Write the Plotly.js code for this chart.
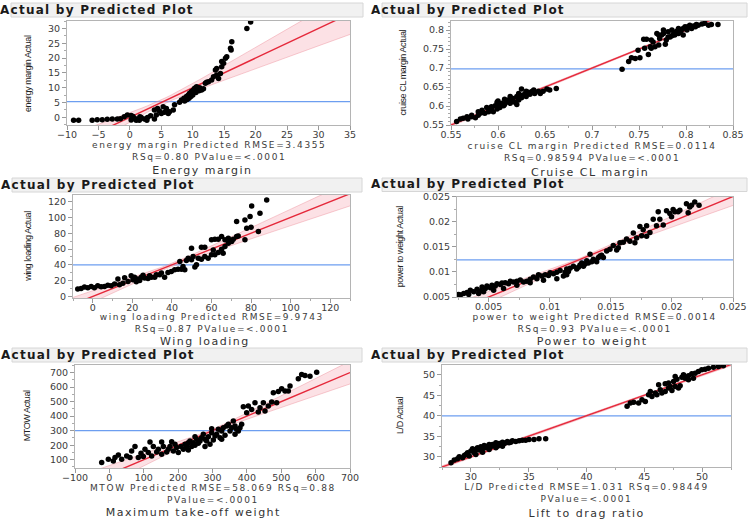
<!DOCTYPE html>
<html>
<head>
<meta charset="utf-8">
<script src="https://cdn.plot.ly/plotly-3.0.1.min.js"></script>
<style>html,body{margin:0;padding:0;background:#fff;}#chart{width:749px;height:519px;}</style>
</head>
<body>
<div id="chart"></div>
<script>
// ---------- DATA ----------
const panelTitle = "Actual by Predicted Plot";
const captions = ["Energy margin", "Cruise CL margin", "Wing loading", "Power to weight", "Maximum take-off weight", "Lift to drag ratio"];
const xTitleLine1 = [
  "energy margin Predicted RMSE=3.4355",
  "cruise CL margin Predicted RMSE=0.0114",
  "wing loading Predicted RMSE=9.9743",
  "power to weight Predicted RMSE=0.0014",
  "MTOW Predicted RMSE=58.069 RSq=0.88",
  "L/D Predicted RMSE=1.031 RSq=0.98449"
];
const xTitleLine2 = [
  "RSq=0.80 PValue=&lt;.0001",
  "RSq=0.98594 PValue=&lt;.0001",
  "RSq=0.87 PValue=&lt;.0001",
  "RSq=0.93 PValue=&lt;.0001",
  "PValue=&lt;.0001",
  "PValue=&lt;.0001"
];
const yTitles = ["energy margin Actual", "cruise CL margin Actual", "wing loading Actual", "power to weight Actual", "MTOW Actual", "L/D Actual"];

const energyPred = [-8.95,-8.15,-6.0,-5.2,-4.4,-3.6,-2.8,-2.0,-0.9,-0.4,0.2,0.7,1.2,1.8,2.3,2.8,0.2,1.0,1.5,2.7,3.9,3.9,4.4,4.7,5.3,5.8,6.3,6.9,7.1,6.1,5.0,5.5,4.2,7.9,8.2,8.6,9.0,9.3,9.5,9.8,10.1,10.3,10.6,10.9,11.1,11.4,11.7,8.7,9.4,10.0,10.5,12.0,12.5,13.0,13.3,13.8,14.1,14.4,13.6,13.8,14.6,14.9,15.2,14.6,15.4,16.0,16.2,16.1,18.6,19.2,-1.5,0.5,1.6,3.3,9.1,9.7,10.4,11.0,12.2];
const energyAct  = [-1.0,-1.0,-1.0,-0.8,-0.8,-0.7,-0.6,-0.6,0.2,0.8,0.6,-0.3,-0.6,-0.1,-0.6,-0.1,-0.9,-1.0,-1.0,-1.0,-0.6,2.5,3.0,2.1,3.6,3.0,1.9,2.5,4.2,1.3,1.3,1.7,0.8,5.1,5.8,6.4,7.0,7.5,8.1,8.7,9.2,9.8,10.3,9.6,10.0,9.2,9.6,5.5,6.4,7.5,8.4,11.5,12.0,12.6,13.7,14.3,13.1,14.8,16.0,16.5,17.1,18.2,19.9,18.8,20.4,23.3,25.5,22.7,30.0,32.2,-0.5,0.3,0.2,0.5,6.0,7.0,8.8,9.0,11.8];
const energyMean = 5.3;

const cruisePred = [0.556,0.560,0.563,0.568,0.572,0.576,0.579,0.581,0.584,0.586,0.590,0.591,0.593,0.595,0.597,0.599,0.600,0.602,0.604,0.606,0.607,0.609,0.611,0.613,0.615,0.616,0.618,0.620,0.622,0.623,0.625,0.627,0.629,0.630,0.632,0.634,0.636,0.638,0.639,0.643,0.645,0.648,0.652,0.655,0.662,0.599,0.588,0.583,0.572,0.567,0.613,0.622,0.607,0.600,0.593,0.579,0.620,0.630,0.625,
  0.732,0.739,0.742,0.746,0.749,0.751,0.755,0.758,0.760,0.762,0.763,0.765,0.767,0.771,0.769,0.772,0.774,0.776,0.778,0.779,0.781,0.783,0.785,0.787,0.788,0.790,0.792,0.794,0.795,0.797,0.799,0.801,0.802,0.804,0.806,0.808,0.810,0.811,0.813,0.817,0.820,0.824,0.827,0.834,0.756,0.763,0.771,0.785,0.792,0.797,0.781,0.776];
const cruiseAct  = [0.559,0.566,0.568,0.566,0.572,0.569,0.576,0.581,0.583,0.581,0.585,0.589,0.594,0.585,0.601,0.592,0.603,0.596,0.607,0.601,0.604,0.610,0.616,0.607,0.613,0.620,0.610,0.625,0.616,0.629,0.622,0.629,0.633,0.625,0.636,0.631,0.638,0.642,0.633,0.639,0.633,0.639,0.645,0.642,0.646,0.610,0.596,0.589,0.576,0.572,0.625,0.633,0.618,0.613,0.598,0.585,0.604,0.639,0.645,
  0.697,0.717,0.727,0.725,0.747,0.727,0.776,0.776,0.736,0.756,0.752,0.769,0.756,0.761,0.791,0.778,0.787,0.791,0.763,0.774,0.796,0.782,0.800,0.791,0.787,0.797,0.804,0.796,0.800,0.804,0.809,0.800,0.809,0.813,0.804,0.811,0.809,0.815,0.813,0.816,0.818,0.813,0.815,0.815,0.752,0.774,0.787,0.785,0.791,0.787,0.782,0.800];
const cruiseMean = 0.698;

const wingPred = [-7.6,-5.9,-4.2,-2.5,-0.8,0.8,2.5,4.2,5.9,7.6,9.3,11.0,12.7,13.5,15.2,16.1,17.8,19.4,20.3,21.1,22.0,22.8,23.7,24.5,25.4,26.2,27.9,28.7,29.6,31.3,32.1,33.8,34.7,36.3,38.0,39.7,41.4,43.1,44.0,44.8,45.6,46.5,47.3,48.2,49.9,50.7,51.6,52.4,53.3,54.9,56.6,58.3,60.0,60.9,61.7,63.4,65.1,65.9,66.8,68.5,69.3,71.0,72.7,60.0,61.7,63.4,65.1,66.8,68.5,70.2,54.9,56.6,49.9,72.7,73.5,76.9,76.9,77.8,79.5,80.0,80.3,83.7,84.5,87.9];
const wingAct  = [9.3,10.1,11.8,10.9,12.6,10.9,13.5,12.2,12.6,14.3,13.5,15.6,21.9,14.7,16.8,23.6,18.9,26.1,21.1,24.4,18.5,21.9,20.2,24.4,26.9,23.2,22.7,26.1,24.4,24.4,27.4,27.4,29.5,24.4,30.3,31.6,33.7,34.5,44.2,34.5,37.9,33.7,45.5,48.4,46.3,50.5,37.1,40.0,48.4,47.2,50.5,48.4,52.6,58.9,52.6,55.6,59.8,54.7,63.2,67.4,69.5,72.4,75.8,71.6,72.4,72.4,75.8,71.6,73.7,69.5,62.3,62.3,61.1,94.7,76.6,96.8,71.6,86.3,101.1,87.6,114.5,82.1,105.3,122.1];
const wingMean = 40;

const powerPred = [0.00255,0.00296,0.00323,0.00350,0.00378,0.00405,0.00432,0.00446,0.00473,0.00486,0.00514,0.00527,0.00554,0.00568,0.00595,0.00609,0.00636,0.00663,0.00677,0.00704,0.00731,0.00759,0.00786,0.00813,0.00840,0.00867,0.00895,0.00908,0.00935,0.00963,0.00990,0.01003,0.01031,0.01058,0.01085,0.01112,0.01126,0.01139,0.01153,0.01167,0.01194,0.01221,0.01235,0.01248,0.01262,0.01276,0.01289,0.01303,0.01316,0.01330,0.01344,0.01357,0.01384,0.01398,0.01412,0.01425,0.01439,0.01466,0.01493,0.01520,0.01548,0.01561,0.01575,0.01602,0.01629,0.01656,0.01684,0.01697,0.01711,0.01738,0.01752,0.01765,0.01793,0.01793,0.01820,0.01847,0.01874,0.01888,0.01901,0.01929,0.01956,0.01983,0.01997,0.02010,0.02024,0.02051,0.02065,0.02119,0.02133,0.02146,0.02160,0.02187,0.02222,0.00269,0.00337,0.00418,0.00459,0.00541,0.00622,0.00731,0.00840,0.00949,0.01058,0.01139];
const powerAct  = [0.00552,0.00571,0.00591,0.00636,0.00604,0.00656,0.00617,0.00701,0.00669,0.00721,0.00682,0.00734,0.00721,0.00766,0.00747,0.00779,0.00786,0.00766,0.00812,0.00799,0.00812,0.00838,0.00799,0.00812,0.00851,0.00896,0.00864,0.00942,0.00916,0.00942,0.00929,0.00981,0.00961,0.00994,0.01026,0.00916,0.00994,0.01058,0.01006,0.01071,0.01110,0.01058,0.01091,0.01136,0.01175,0.01110,0.01156,0.01221,0.01175,0.01351,0.01201,0.01253,0.01201,0.01286,0.01318,0.01331,0.01286,0.01416,0.01448,0.01526,0.01435,0.01481,0.01578,0.01591,0.01656,0.01610,0.01773,0.01578,0.01675,0.01903,0.01721,0.01838,0.01916,0.01708,0.01786,0.02045,0.01916,0.02195,0.02045,0.01935,0.02214,0.02162,0.02097,0.02240,0.02195,0.02195,0.02227,0.02357,0.02175,0.02292,0.02325,0.02390,0.02325,0.00539,0.00552,0.00571,0.00604,0.00636,0.00669,0.00734,0.00786,0.00831,0.00864,0.00942];
const powerMean = 0.0124;

const mtowPred = [-22.4,-3.0,11.5,16.4,26.1,35.8,50.3,60.0,64.8,74.5,84.2,92.0,98.8,103.6,113.3,118.2,123.0,127.9,137.6,142.4,152.1,157.0,166.7,171.5,176.4,181.2,186.1,195.8,200.6,208.4,215.2,220.0,224.8,229.7,234.5,239.4,244.2,249.1,253.9,258.8,263.6,268.5,273.3,278.2,283.0,287.9,292.7,297.6,302.4,307.3,312.1,317.0,321.8,326.7,331.5,336.4,341.2,346.1,350.9,355.8,360.6,365.5,370.3,375.2,380.0,384.8,389.7,399.4,404.2,413.9,423.6,433.3,438.2,447.9,452.7,462.4,472.1,477.0,486.7,491.5,501.2,510.9,520.6,525.5,549.7,559.4,569.1,583.6,603.0,152.1,229.7,278.2,326.7,365.5,190.9,249.1,297.6];
const mtowAct  = [80.3,103.2,91.8,114.6,133.0,103.2,126.1,114.6,160.4,190.2,114.6,144.4,121.5,171.9,149.0,222.2,126.1,190.2,153.5,171.9,222.2,190.2,153.5,171.9,190.2,224.5,160.4,183.3,149.0,190.2,171.9,206.2,190.2,217.6,229.1,190.2,217.6,199.3,240.5,213.0,229.1,251.9,274.8,240.5,229.1,258.8,206.2,286.3,235.9,263.4,274.8,309.2,251.9,297.7,320.6,268.0,332.0,343.5,297.7,320.6,366.4,332.0,309.2,297.7,320.6,343.5,464.8,423.6,469.3,446.5,492.2,428.1,457.9,492.2,435.0,469.3,496.8,560.9,492.2,570.0,588.3,572.3,572.3,606.6,657.0,686.7,679.9,675.3,702.7,137.5,167.3,190.2,240.5,274.8,206.2,258.8,313.7];
const mtowMean = 300;

const ldPred = [28.28,28.56,28.85,28.99,29.28,29.43,29.57,29.71,29.86,30.00,30.14,30.29,30.43,30.57,30.72,30.86,31.01,31.15,31.29,31.44,31.58,31.72,31.87,32.01,32.16,32.30,32.44,32.59,32.73,32.87,33.02,33.16,33.30,33.45,33.59,33.88,34.17,34.45,34.74,35.03,35.46,35.89,36.47,30.43,31.01,31.58,32.16,32.73,
  43.51,43.79,44.08,44.51,44.80,45.09,45.37,45.52,45.66,45.95,46.09,46.24,46.38,46.52,46.81,47.10,47.24,47.39,47.67,47.96,48.10,47.10,47.53,47.82,48.25,48.53,48.82,49.11,49.40,49.68,49.97,50.26,50.55,50.98,51.41,51.84,48.82,47.67,46.81,48.39,49.25];
const ldAct  = [28.54,29.19,29.51,30.00,29.76,30.32,30.57,30.97,30.16,31.38,31.94,30.97,31.78,32.19,31.62,32.43,31.94,32.75,32.19,32.59,33.00,32.43,33.00,32.75,33.40,32.59,33.24,33.00,33.56,33.24,33.40,33.72,33.40,33.56,33.89,33.72,33.89,34.05,34.05,34.21,34.21,34.37,34.37,30.57,31.13,31.78,32.19,32.59,
  42.31,43.12,43.28,43.12,43.93,43.52,45.14,45.95,44.74,45.55,45.14,47.57,46.36,45.55,45.95,46.76,47.17,46.19,47.17,46.76,47.33,47.98,48.38,48.95,49.43,49.19,49.76,50.24,50.40,50.81,51.21,51.38,51.62,51.86,52.02,52.19,48.79,49.60,47.81,50.00,49.19];
const ldMean = 40.0;

// ---------- LAYOUT / STYLE ----------
const W = 749, H = 519;
const px = x => x / W;
const py = y => 1 - y / H;

const panels = [
  {x: energyPred, y: energyAct, mean: energyMean, xr: [-10, 35], yr: [-2.6, 32.5], xd: 5, yd: 5, xm: null, ym: 2.5,
   frame: [67, 21, 350, 125], head: [11, 3, 363, 17], cap: [203, 170.5], xt: 151, yt: 28, band: [5.3, 0.9, 0.235]},
  {x: cruisePred, y: cruiseAct, mean: cruiseMean, xr: [0.55, 0.85], yr: [0.55, 0.824], xd: 0.05, yd: 0.05, xm: 0.025, ym: 0.01,
   frame: [451, 21, 733, 125], head: [382, 3, 747, 17], cap: [590, 172], xt: 151.5, yt: 403, band: [0.698, 0.0015, 0.02]},
  {x: wingPred, y: wingAct, mean: wingMean, xr: [-10, 130], yr: [-2, 128.4], xd: 20, yd: 20, xm: 10, ym: 10,
   frame: [73, 195, 350, 298], head: [12, 178, 362, 192], cap: [205, 341], xt: 323.3, yt: 27, band: [40, 2.0, 0.17]},
  {x: powerPred, y: powerAct, mean: powerMean, xr: [0.00241, 0.025], yr: [0.005, 0.025], xd: 0.005, yd: 0.005, xm: 0.0025, ym: 0.0025,
   frame: [457, 196.5, 733, 297], head: [382, 178, 747, 191.5], cap: [592, 341], xt: 322.8, yt: 400, band: [0.0124, 0.00025, 0.14]},
  {x: mtowPred, y: mtowAct, mean: mtowMean, xr: [-100, 700], yr: [43, 752], xd: 100, yd: 100, xm: null, ym: 50,
   frame: [75, 365, 350, 468], head: [12, 348, 362, 362], cap: [193, 512.5], xt: 494, yt: 26, band: [300, 9, 0.195]},
  {x: ldPred, y: ldAct, mean: ldMean, xr: [27.5, 52.5], yr: [27.5, 52.4], xd: 5, yd: 5, xm: 2.5, ym: 2.5,
   frame: [442, 365, 731, 467], head: [382, 348, 747, 362], cap: [587, 513], xt: 493, yt: 400, band: [40.1, 0.15, 0.02]}
];

const sans = "DejaVu Sans, Verdana, sans-serif";
const tickFont = {family: sans, size: 9.5, color: "#3c3c3c"};
const xTitleFont = {family: sans, size: 9, color: "#3c3c3c"};
const yTitleFont = {family: "Liberation Sans Narrow, Arial Narrow, Liberation Sans, sans-serif", size: 9, color: "#222"};

const traces = [];
const layout = {
  width: W, height: H,
  margin: {l: 0, r: 0, t: 0, b: 0},
  paper_bgcolor: "#fff", plot_bgcolor: "#fff",
  showlegend: false,
  shapes: [], annotations: []
};
const spacingRules = []; // letter-spacing per annotation index

function addAnn(a, spacing) {
  if (spacing) spacingRules.push('g.annotation[data-index="' + layout.annotations.length + '"] text{letter-spacing:' + spacing + '}');
  layout.annotations.push(Object.assign({xref: "paper", yref: "paper", showarrow: false}, a));
}

panels.forEach((p, i) => {
  const n = i + 1;
  const xa = "x" + (n === 1 ? "" : n), ya = "y" + (n === 1 ? "" : n);
  const xk = "xaxis" + (n === 1 ? "" : n), yk = "yaxis" + (n === 1 ? "" : n);
  const [fx0, fy0, fx1, fy1] = p.frame;

  layout[xk] = {
    domain: [px(fx0), px(fx1)], range: p.xr, anchor: ya,
    dtick: p.xd, tick0: 0, ticks: "outside", ticklen: 4, tickcolor: "#9a9a9a", ticklabelstandoff: -3,
    showline: true, mirror: true, linecolor: "#b4b4b4", linewidth: 1,
    showgrid: false, zeroline: false, tickfont: tickFont,
    minor: p.xm ? {dtick: p.xm, tick0: 0, ticks: "outside", ticklen: 2, tickcolor: "#aaa"} : undefined
  };
  layout[yk] = {
    domain: [py(fy1), py(fy0)], range: p.yr, anchor: xa,
    dtick: p.yd, tick0: 0, ticks: "outside", ticklen: 4, tickcolor: "#9a9a9a",
    showline: true, mirror: true, linecolor: "#b4b4b4", linewidth: 1,
    showgrid: false, zeroline: false, tickfont: tickFont,
    minor: {dtick: p.ym, tick0: 0, ticks: "outside", ticklen: 2, tickcolor: "#aaa"}
  };

  // confidence band around the fit line (derived from the fit, not data)
  const [xbar, a, b] = p.band;
  const bx = [], lo = [], hi = [];
  const steps = 60;
  for (let k = 0; k <= steps; k++) {
    const xv = p.xr[0] + (p.xr[1] - p.xr[0]) * k / steps;
    const hw = Math.sqrt(a * a + Math.pow(b * (xv - xbar), 2));
    bx.push(xv); lo.push(xv - hw); hi.push(xv + hw);
  }
  traces.push({type: "scatter", mode: "lines", x: bx, y: lo, xaxis: xa, yaxis: ya,
    line: {color: "rgba(235,125,140,0.55)", width: 0.7}, hoverinfo: "skip"});
  traces.push({type: "scatter", mode: "lines", x: bx, y: hi, xaxis: xa, yaxis: ya, fill: "tonexty",
    fillcolor: "rgba(246,170,180,0.35)", line: {color: "rgba(235,125,140,0.55)", width: 0.7}, hoverinfo: "skip"});
  // fit line y = x
  traces.push({type: "scatter", mode: "lines", x: p.xr, y: p.xr, xaxis: xa, yaxis: ya,
    line: {color: "#e5283a", width: 1.4}, hoverinfo: "skip"});
  // points
  traces.push({type: "scatter", mode: "markers", x: p.x, y: p.y, xaxis: xa, yaxis: ya,
    marker: {color: "#000", size: 5.5}, cliponaxis: true});

  // mean line
  layout.shapes.push({type: "line", xref: xa + " domain", yref: ya, x0: 0, x1: 1, y0: p.mean, y1: p.mean,
    line: {color: "#6d9ef0", width: 1.3}, layer: "below"});

  // header bar
  const [hx0, hy0, hx1, hy1] = p.head;
  layout.shapes.push({type: "rect", xref: "paper", yref: "paper", x0: px(hx0), x1: px(hx1), y0: py(hy1), y1: py(hy0),
    fillcolor: "#f1f1f1", line: {color: "#d6d6d6", width: 1}});
  addAnn({x: px(hx0 + 2), y: py((hy0 + hy1) / 2 - 0.5), xanchor: "left", yanchor: "middle",
    text: "<b>" + panelTitle + "</b>", font: {family: sans, size: 12, color: "#1a1a1a"}}, "1.25px");
  // caption
  addAnn({x: px(p.cap[0]), y: py(p.cap[1]), xanchor: "center", yanchor: "middle",
    text: captions[i], font: {family: sans, size: 11, color: "#333"}}, "1.5px");
  // x-axis title (two lines)
  const cx = (fx0 + fx1) / 2;
  addAnn({x: px(cx), y: py(p.xt), xanchor: "center", yanchor: "middle", align: "center",
    text: xTitleLine1[i] + "<br>" + xTitleLine2[i], font: xTitleFont}, "1.6px");
  // y-axis title
  addAnn({x: px(p.yt), y: py((fy0 + fy1) / 2), xanchor: "center", yanchor: "middle", textangle: -90,
    text: yTitles[i], font: yTitleFont}, "-0.4px");
});

const st = document.createElement("style");
st.textContent = spacingRules.join("\n");
document.head.appendChild(st);

Plotly.newPlot("chart", traces, layout, {displayModeBar: false, staticPlot: true});
</script>
</body>
</html>
